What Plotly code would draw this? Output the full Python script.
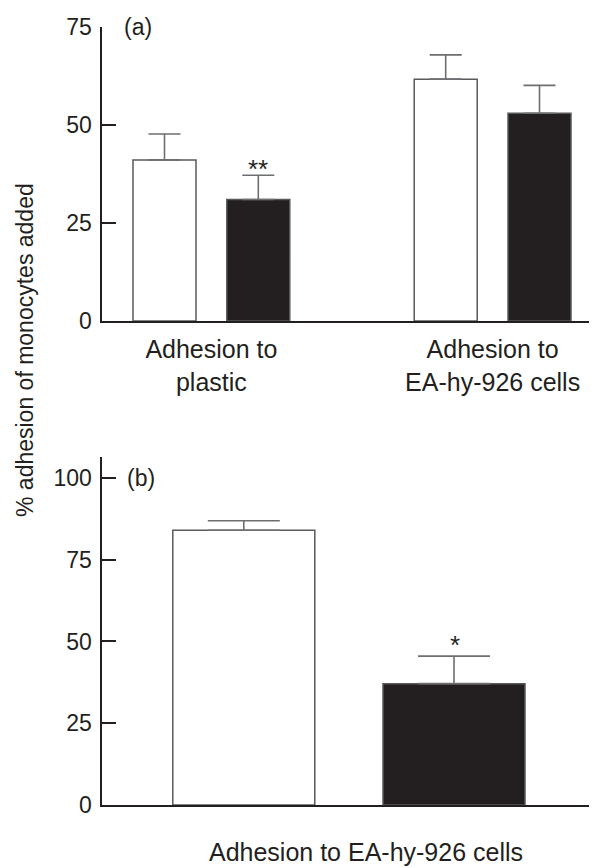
import plotly.graph_objects as go

# ---- data ----
groups_a = ["Adhesion to<br>plastic", "Adhesion to<br>EA-hy-926 cells"]
open_a = [41.1, 61.7]
open_a_err = [6.6, 6.2]
filled_a = [31.0, 53.0]
filled_a_err = [6.2, 7.1]

groups_b = ["Adhesion to EA-hy-926 cells"]
open_b = [84.0]
open_b_err = [2.9]
filled_b = [37.1]
filled_b_err = [8.4]

# page has an 8px body margin, so the figure is drawn 8px smaller
OFF = 8
W, H = 597 - OFF, 868 - OFF
INK = "#231f20"
EDGE = "#58595b"
ERR = "#6d6e71"
FONT = "Liberation Sans, Arial, Helvetica, sans-serif"

def px(x):
    return (x - OFF) / W

def py(y):
    return 1 - (y - OFF) / H

fig = go.Figure()

# panel (a)
ua = 281.2
wa = 63 / ua
da = 46.9 / ua
fig.add_trace(go.Bar(x=groups_a, y=open_a, width=wa, offset=-da - wa / 2,
                     marker=dict(color="white", line=dict(color=EDGE, width=1.5)),
                     error_y=dict(type="data", array=open_a_err, symmetric=False,
                                  arrayminus=[0, 0], color=ERR, thickness=1.6, width=16),
                     xaxis="x", yaxis="y", showlegend=False, name="open"))
fig.add_trace(go.Bar(x=groups_a, y=filled_a, width=wa, offset=da - wa / 2,
                     marker=dict(color=INK, line=dict(color=EDGE, width=1.5)),
                     error_y=dict(type="data", array=filled_a_err, symmetric=False,
                                  arrayminus=[0, 0], color=ERR, thickness=1.6, width=16),
                     xaxis="x", yaxis="y", showlegend=False, name="filled"))

# panel (b)
ub = 495.5
LB = 366
wb = 142 / ub
cw = (243.8 - LB) / ub
cf = (454 - LB) / ub
fig.add_trace(go.Bar(x=groups_b, y=open_b, width=wb, offset=cw - wb / 2,
                     marker=dict(color="white", line=dict(color=EDGE, width=1.5)),
                     error_y=dict(type="data", array=open_b_err, symmetric=False,
                                  arrayminus=[0], color=ERR, thickness=1.6, width=36),
                     xaxis="x2", yaxis="y2", showlegend=False, name="open"))
fig.add_trace(go.Bar(x=groups_b, y=filled_b, width=wb, offset=cf - wb / 2,
                     marker=dict(color=INK, line=dict(color=EDGE, width=1.5)),
                     error_y=dict(type="data", array=filled_b_err, symmetric=False,
                                  arrayminus=[0], color=ERR, thickness=1.6, width=36),
                     xaxis="x2", yaxis="y2", showlegend=False, name="filled"))

xdom = [px(101.5), 1]
ax_common = dict(showgrid=False, zeroline=False, showline=True, linecolor=INK,
                 linewidth=2, automargin=False)
xfont = dict(size=25, color=INK, family=FONT)
yfont = dict(size=23, color=INK, family=FONT)
xa0 = -(211.4 - 101.5) / ua
xb0 = -(LB - 101.5) / ub

fig.update_layout(
    width=W, height=H, autosize=False,
    margin=dict(l=0, r=0, t=0, b=0, pad=0, autoexpand=False),
    paper_bgcolor="white", plot_bgcolor="white",
    font=dict(family=FONT, color=INK, size=23),
    barmode="overlay",
    xaxis=dict(domain=xdom, anchor="y", type="category",
               range=[xa0, xa0 + (597 - 101.5) / ua],
               ticks="", ticklabelstandoff=5, tickfont=xfont, **ax_common),
    yaxis=dict(domain=[py(321), py(27)], anchor="x", range=[0, 75],
               tickvals=[0, 25, 50, 75], ticks="inside", ticklen=14, tickwidth=1.5,
               tickcolor=INK, ticklabelstandoff=3, tickfont=yfont, **ax_common),
    xaxis2=dict(domain=xdom, anchor="y2", type="category",
                range=[xb0, xb0 + (597 - 101.5) / ub],
                ticks="", ticklabelstandoff=24, tickfont=xfont, **ax_common),
    yaxis2=dict(domain=[py(805), py(457.3)], anchor="x2", range=[0, 106.3],
                tickvals=[0, 25, 50, 75, 100], ticks="inside", ticklen=14, tickwidth=1.5,
                tickcolor=INK, ticklabelstandoff=3, tickfont=yfont, **ax_common),
)

ann = [
    dict(text="(a)", x=px(138), y=py(27), size=23),
    dict(text="(b)", x=px(141), y=py(478), size=23),
    dict(text="**", x=px(258.3), y=py(169), size=26),
    dict(text="*", x=px(455), y=py(645), size=26),
    dict(text="% adhesion of monocytes added", x=px(25), y=py(350), textangle=-90, size=23),
]
for a in ann:
    size = a.pop("size")
    fig.add_annotation(xref="paper", yref="paper", showarrow=False,
                       xanchor="center", yanchor="middle",
                       font=dict(size=size, color=INK, family=FONT), **a)

fig.write_html("out.html")
